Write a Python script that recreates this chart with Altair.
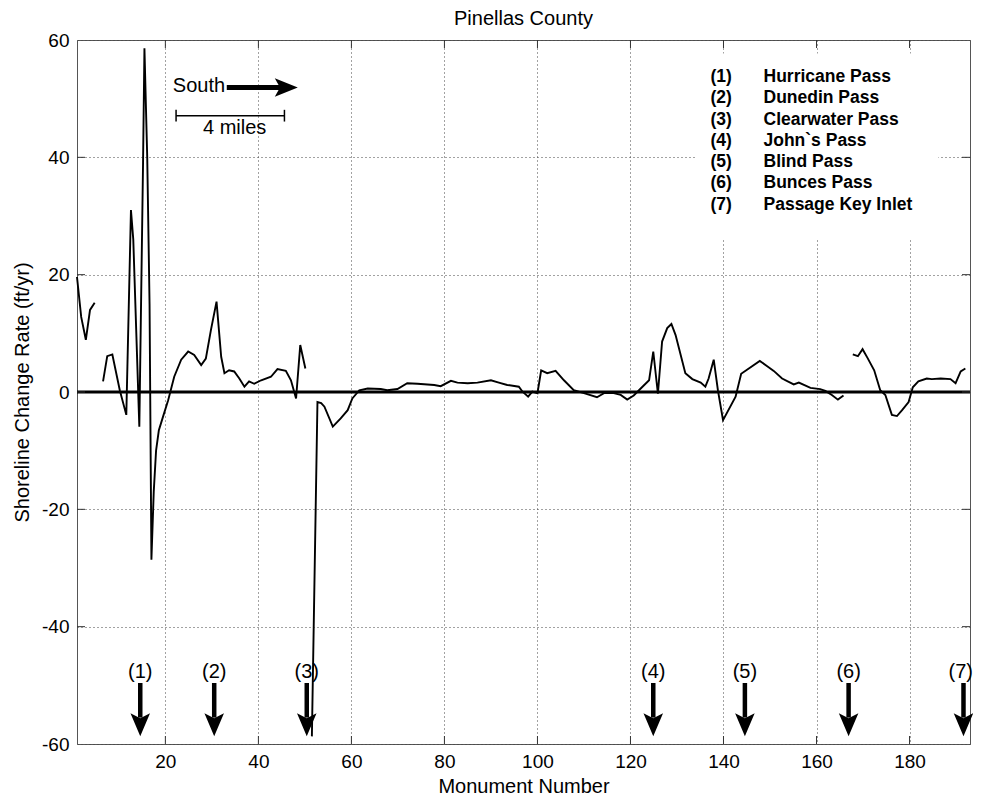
import altair as alt
import pandas as pd

FONT = "Liberation Sans"

# ---- shoreline change rate (ft/yr) by monument ----
seg1_m = [1.0, 1.9, 2.9, 3.8, 4.8]
seg1_r = [19.6, 12.8, 8.9, 14.0, 15.2]

seg2_m = [6.6, 7.5, 8.6, 10.2, 11.6, 12.6, 13.1, 14.4, 15.2, 15.5, 16.1, 16.6, 17.0,
          17.5, 18.0, 18.6, 19.5, 20.6, 21.9, 23.4, 24.9, 26.2, 27.7, 28.7, 29.8,
          31.0, 32.0, 32.7, 33.7, 34.8, 35.9, 37.0, 38.0, 39.1, 40.6, 42.7, 44.1,
          45.9, 47.0, 48.1, 49.0, 50.1]
seg2_r = [1.8, 6.1, 6.4, 0.3, -3.9, 31.0, 26.0, -5.9, 39.0, 58.6, 40.0, 15.0, -28.6,
          -17.0, -10.0, -6.5, -4.2, -1.4, 2.6, 5.5, 6.9, 6.3, 4.6, 5.7, 10.6,
          15.4, 6.0, 3.2, 3.7, 3.5, 2.3, 0.9, 1.8, 1.4, 2.0, 2.6, 3.9,
          3.6, 2.0, -1.1, 8.0, 4.0]

seg3_m = [51.5, 52.7, 53.5, 54.2, 56.0, 57.7, 59.2, 60.2, 61.7, 63.5, 66.3, 67.7,
          69.9, 72.0, 74.2, 77.8, 79.2, 81.4, 82.8, 85.0, 87.1, 90.0, 91.7, 93.5,
          96.0, 96.8, 98.0, 98.9, 100.0, 100.8, 102.1, 103.9, 105.7, 107.8, 110.0,
          112.8, 114.3, 116.4, 117.9, 119.3, 120.7, 122.2, 124.0, 124.9, 125.9,
          126.8, 127.9, 128.8, 129.7, 131.8, 133.3, 135.1, 136.1, 136.8, 137.9,
          138.8, 139.9, 142.6, 143.8, 144.9, 147.8, 149.4, 150.8, 152.6, 155.1,
          156.2, 158.7, 160.8, 161.9, 163.3, 164.6, 165.8]
seg3_r = [-58.7, -1.7, -1.9, -2.5, -5.9, -4.5, -3.1, -1.1, 0.3, 0.6, 0.5, 0.3,
          0.5, 1.5, 1.4, 1.2, 1.0, 1.9, 1.6, 1.5, 1.6, 2.0, 1.6, 1.2,
          0.9, 0.05, -0.8, 0.05, -0.2, 3.7, 3.2, 3.6, 2.0, 0.3, -0.2,
          -0.9, -0.2, -0.2, -0.5, -1.3, -0.6, 0.6, 2.0, 6.9, -0.3,
          8.6, 10.9, 11.6, 9.7, 3.2, 2.2, 1.6, 0.9, 2.3, 5.5,
          0.3, -4.8, -0.8, 3.1, 3.7, 5.3, 4.4, 3.6, 2.3, 1.3,
          1.6, 0.7, 0.5, 0.2, -0.5, -1.3, -0.6]

seg4_m = [167.8, 168.9, 169.9, 170.9, 172.4, 173.7, 174.8, 176.2, 177.3, 178.4,
          179.8, 180.7, 181.9, 183.7, 184.8, 186.7, 188.8, 189.9, 191.0, 192.0]
seg4_r = [6.4, 6.1, 7.3, 5.9, 3.7, 0.3, -0.5, -3.9, -4.1, -3.1,
          -1.7, 0.8, 1.8, 2.3, 2.2, 2.3, 2.2, 1.5, 3.5, 4.0]

# ---- inlets ----
pass_ids = ["(1)", "(2)", "(3)", "(4)", "(5)", "(6)", "(7)"]
pass_names = ["Hurricane Pass", "Dunedin Pass", "Clearwater Pass", "John`s Pass",
              "Blind Pass", "Bunces Pass", "Passage Key Inlet"]
pass_m = [14.6, 30.5, 50.4, 124.9, 144.6, 166.9, 191.6]
label_m = [14.6, 30.5, 50.4, 124.9, 144.6, 166.9, 191.0]

x_ticks = [20, 40, 60, 80, 100, 120, 140, 160, 180]
y_ticks = [-60, -40, -20, 0, 20, 40, 60]

TITLE = "Pinellas County"
W, H = 893, 704

rows = []
for sid, (ms, rs) in enumerate([(seg1_m, seg1_r), (seg2_m, seg2_r),
                                 (seg3_m, seg3_r), (seg4_m, seg4_r)]):
    for m, r in zip(ms, rs):
        rows.append({"seg": sid, "m": m, "r": r})
df = pd.DataFrame(rows)

xs = alt.Scale(domain=[1, 193], nice=False, zero=False)
ys = alt.Scale(domain=[-60, 60], nice=False, zero=False)

line = alt.Chart(df).mark_line(color="black", strokeWidth=1.9).encode(
    x=alt.X("m:Q", scale=xs, title="Monument Number",
            axis=alt.Axis(values=x_ticks, grid=True, ticks=False, domain=False,
                          labelPadding=8, titleY=42, titleBaseline="middle",
                          labelExpr="'' + datum.value")),
    y=alt.Y("r:Q", scale=ys, title="Shoreline Change Rate (ft/yr)",
            axis=alt.Axis(values=y_ticks, grid=True, ticks=False, domain=False,
                          labelPadding=8, titleX=-55, titleY=H / 2, titleAngle=-90,
                          titleAlign="center", titleBaseline="middle",
                          labelExpr="'' + datum.value")),
    detail="seg:N",
)

zero = alt.Chart(pd.DataFrame({"r": [0]})).mark_rule(color="black", strokeWidth=3).encode(
    y=alt.Y("r:Q", scale=ys))

# white backing of the legend text box
box = alt.Chart(pd.DataFrame({"x1": [134], "x2": [186.2], "y1": [25.9], "y2": [57.7]})).mark_rect(
    color="white").encode(x=alt.X("x1:Q", scale=xs), x2="x2:Q",
                          y=alt.Y("y1:Q", scale=ys), y2="y2:Q")

# inward tick marks on all four sides
xt = pd.DataFrame({"m": x_ticks})
yt = pd.DataFrame({"r": [-40, -20, 0, 20, 40]})
tick_top = alt.Chart(xt).mark_rule(color="#333", strokeWidth=1).encode(
    x=alt.X("m:Q", scale=xs), y=alt.value(0), y2=alt.value(8))
tick_bot = alt.Chart(xt).mark_rule(color="#333", strokeWidth=1).encode(
    x=alt.X("m:Q", scale=xs), y=alt.value(H - 8), y2=alt.value(H))
tick_left = alt.Chart(yt).mark_rule(color="#333", strokeWidth=1).encode(
    y=alt.Y("r:Q", scale=ys), x=alt.value(0), x2=alt.value(8))
tick_right = alt.Chart(yt).mark_rule(color="#333", strokeWidth=1).encode(
    y=alt.Y("r:Q", scale=ys), x=alt.value(W - 8), x2=alt.value(W))

# legend text
leg_df = pd.DataFrame({"id": pass_ids, "name": pass_names,
                       "y": [53.7 - 3.63 * i for i in range(len(pass_ids))],
                       "xa": [137.2] * 7, "xb": [148.6] * 7})
leg_ids = alt.Chart(leg_df).mark_text(align="left", baseline="middle", font=FONT,
                                      fontSize=17.5, fontWeight="bold", color="black").encode(
    x=alt.X("xa:Q", scale=xs), y=alt.Y("y:Q", scale=ys), text="id:N")
leg_names = alt.Chart(leg_df).mark_text(align="left", baseline="middle", font=FONT,
                                        fontSize=17.5, fontWeight="bold", color="black").encode(
    x=alt.X("xb:Q", scale=xs), y=alt.Y("y:Q", scale=ys), text="name:N")

# inlet arrows at the bottom
pdf = pd.DataFrame({"m": pass_m, "lm": label_m, "id": pass_ids, "y0": [-49.6] * 7,
                    "y1": [-55.5] * 7, "yh": [-56.7] * 7, "yl": [-47.8] * 7})
shaft = alt.Chart(pdf).mark_rule(color="black", strokeWidth=4.5).encode(
    x=alt.X("m:Q", scale=xs), y=alt.Y("y0:Q", scale=ys), y2="y1:Q")
DOWN = "M-0.85,-1L0,1L0.85,-1L0,-0.55Z"
RIGHT = "M-1,-0.8L1,0L-1,0.8L-0.55,0Z"
head = alt.Chart(pdf).mark_point(shape=DOWN, filled=True, color="black", opacity=1,
                                 size=529, strokeWidth=0).encode(
    x=alt.X("m:Q", scale=xs), y=alt.Y("yh:Q", scale=ys))
plabel = alt.Chart(pdf).mark_text(font=FONT, fontSize=20, baseline="middle", align="center",
                                  color="black").encode(
    x=alt.X("lm:Q", scale=xs), y=alt.Y("yl:Q", scale=ys), text="id:N")

# "South" arrow and 4-mile scale bar
ann = pd.DataFrame({"a": [0]})
south_txt = alt.Chart(ann).mark_text(text="South", font=FONT, fontSize=20, align="left",
                                     baseline="middle", color="black").encode(
    x=alt.X("x:Q", scale=xs), y=alt.Y("y:Q", scale=ys)).transform_calculate(x="21.6", y="52.2")
south_shaft = alt.Chart(ann).mark_rule(color="black", strokeWidth=5).encode(
    x=alt.X("x:Q", scale=xs), x2="x2:Q", y=alt.Y("y:Q", scale=ys)
).transform_calculate(x="33.2", x2="45.0", y="51.9")
south_head = alt.Chart(ann).mark_point(shape=RIGHT, filled=True, color="black", opacity=1,
                                       size=529, strokeWidth=0).encode(
    x=alt.X("x:Q", scale=xs), y=alt.Y("y:Q", scale=ys)).transform_calculate(x="46.0", y="51.9")
bar = alt.Chart(ann).mark_rule(color="black", strokeWidth=1.5).encode(
    x=alt.X("x:Q", scale=xs), x2="x2:Q", y=alt.Y("y:Q", scale=ys)
).transform_calculate(x="22.3", x2="45.6", y="47.1")
bar_ends = alt.Chart(pd.DataFrame({"x": [22.3, 45.6]})).mark_rule(color="black", strokeWidth=1.5).encode(
    x=alt.X("x:Q", scale=xs), y=alt.Y("y:Q", scale=ys), y2="y2:Q"
).transform_calculate(y="46.1", y2="48.1")
bar_txt = alt.Chart(ann).mark_text(text="4 miles", font=FONT, fontSize=20, align="center",
                                   baseline="middle", color="black").encode(
    x=alt.X("x:Q", scale=xs), y=alt.Y("y:Q", scale=ys)).transform_calculate(x="34.9", y="45.0")

# chart title drawn as a text mark above the plot frame
title_txt = alt.Chart(ann).mark_text(text=TITLE, font=FONT, fontSize=20, align="center",
                                     baseline="alphabetic", color="black").encode(
    x=alt.value(W / 2), y=alt.value(-15))

chart = alt.layer(
    box, zero, line, tick_top, tick_bot, tick_left, tick_right,
    leg_ids, leg_names, shaft, head, plabel,
    south_txt, south_shaft, south_head, bar, bar_ends, bar_txt, title_txt,
).properties(
    width=W, height=H,
    autosize=alt.AutoSizeParams(type="none"),
    padding={"left": 69, "top": 32, "right": 3, "bottom": 51},
).configure_view(
    stroke="#555", strokeWidth=1
).configure_axis(
    labelFont=FONT, labelFontSize=19, labelColor="black",
    titleFont=FONT, titleFontSize=20, titleFontWeight="normal", titleColor="black",
    gridColor="#444", gridDash=[1, 3], gridWidth=1, gridOpacity=1,
)

chart.save("out.html", embed_options={"renderer": "svg", "actions": False})
